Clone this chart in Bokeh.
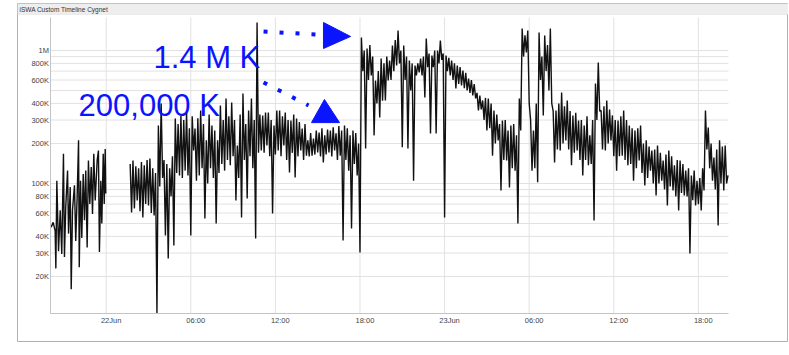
from bokeh.plotting import figure
from bokeh.models import FixedTicker, Label, Range1d, BoxAnnotation
from bokeh.embed import file_html
from bokeh.resources import INLINE

# ---------------- data ----------------
panel_title = "iSWA Custom Timeline Cygnet"

# x axis: hours since 22 Jun 00:00
x_tick_hours = [0, 6, 12, 18, 24, 30, 36, 42]
x_tick_labels = ["22Jun", "06:00", "12:00", "18:00", "23Jun", "06:00", "12:00", "18:00"]

# y axis (values in thousands, log scale)
y_major_k = [20, 30, 40, 60, 80, 100, 200, 300, 400, 600, 800, 1000]
y_major_labels = ["20K", "30K", "40K", "60K", "80K", "100K", "200K", "300K", "400K", "600K", "800K", "1M"]
y_minor_k = [50, 70, 90, 500, 700, 900]

# first stretch of data (before the gap)
seg1_hours = [-3.90, -3.76, -3.62, -3.57, -3.50, -3.38, -3.26, -3.15, -3.03, -2.96,
              -2.87, -2.74, -2.67, -2.55, -2.48, -2.39, -2.25, -2.16, -2.06, -1.96,
              -1.91, -1.82, -1.73, -1.63, -1.54, -1.45, -1.35, -1.26, -1.16, -1.06,
              -0.97, -0.88, -0.78, -0.64, -0.55, -0.48, -0.38, -0.31, -0.21, -0.14,
              -0.07, -0.03]
seg1_k = [47, 51, 44, 23, 105, 31, 63, 29.5, 167, 28,
          66, 125, 42, 94, 16, 63, 97, 37, 79, 211,
          23.5, 105, 39, 118, 53, 125, 33, 149, 70, 133,
          59, 167, 74.5, 149, 177, 30.5, 105, 50, 167, 70,
          182, 84]

# second stretch: regular 6-minute samples starting at 01:42 on 22 Jun
seg2_start_hour = 1.7
seg2_step_hour = 0.1
seg2_k = [
    140, 60.5, 149, 65, 135, 74.5, 130, 62, 145, 55.5, 137, 70, 150, 68.3, 154, 60, 130, 57.4, 120, 10.5,
    273, 95, 400, 110, 150, 40.6, 140, 27.3, 130, 80, 160, 34.2, 308, 120, 280, 115, 325, 110, 300, 125,
    342, 115, 260, 40.6, 320, 177, 259, 105, 310, 115, 354, 130, 280, 54.5, 211, 100, 330, 130, 273, 110,
    250, 50, 211, 120, 386, 140, 300, 125, 436, 150, 320, 137, 406, 160, 300, 74.5, 193, 110, 330, 55.5,
    475, 150, 280, 77.1, 354, 160, 436, 130, 300, 38.6, 1624, 170, 330, 177, 325, 170, 342, 193, 342, 160,
    300, 59.5, 273, 165, 354, 177, 354, 160, 320, 193, 342, 150, 300, 121, 298, 170, 330, 111, 308, 160,
    290, 177, 259, 150, 280, 162, 211, 160, 240, 162, 218, 165, 250, 171, 242, 160, 260, 144, 230, 165,
    255, 171, 250, 160, 265, 177, 238, 150, 270, 162, 250, 37.3, 273, 150, 260, 125, 230, 45.9, 250, 140,
    240, 115, 200, 30.3, 1253, 700, 1000, 183, 1035, 600, 1100, 649, 900, 230, 595, 400, 700, 313, 871, 420,
    800, 421, 900, 595, 841, 600, 1091, 700, 1200, 771, 1414, 800, 1000, 187, 1091, 600, 900, 183, 841, 500,
    800, 105, 771, 650, 800, 683, 871, 650, 900, 443, 1231, 750, 950, 238, 917, 750, 1000, 238, 1000, 800,
    1189, 850, 950, 55.5, 917, 700, 880, 649, 841, 600, 800, 518, 771, 560, 750, 546, 707, 520, 680, 500,
    616, 480, 600, 459, 560, 436, 480, 354, 459, 360, 421, 300, 440, 250, 436, 260, 400, 162, 354, 200,
    330, 211, 280, 88.6, 298, 150, 300, 149, 250, 93.3, 273, 130, 280, 125, 230, 50, 436, 250, 1464, 900,
    1300, 966, 1414, 400, 300, 125, 250, 130, 400, 102, 1366, 600, 900, 325, 1297, 700, 1100, 500, 1464, 400,
    350, 144, 354, 180, 400, 177, 483, 200, 380, 211, 421, 180, 350, 137, 325, 170, 340, 177, 298, 150,
    300, 115, 273, 150, 320, 137, 230, 140, 300, 52.7, 565, 300, 812, 350, 354, 180, 380, 177, 421, 200,
    360, 211, 325, 160, 300, 125, 298, 160, 320, 162, 354, 150, 300, 137, 273, 140, 260, 105, 250, 130,
    260, 149, 273, 120, 200, 96.6, 211, 110, 190, 125, 177, 100, 180, 81.2, 193, 100, 170, 105, 149, 90,
    165, 68.3, 177, 95, 160, 88.6, 137, 80, 150, 62.7, 149, 85, 140, 81.2, 125, 80, 130, 29.8, 115, 75,
    125, 68.3, 105, 70, 110, 62.7, 130, 88.6, 354, 180, 264, 130, 200, 105, 157, 90, 180, 48.3, 211, 100,
    190, 88.6, 193, 100, 115]
seg2_hours = [seg2_start_hour + i * seg2_step_hour for i in range(len(seg2_k))]

# hand-drawn annotations (data coordinates: hours, thousands)
note_texts = ["1.4 M K", "200,000 K"]
note_x = [3.35, -1.96]
note_y = [886, 386]
arrow1_x = [11.16, 14.84]
arrow1_y = [1390, 1319]
arrow2_x = [11.16, 14.35]
arrow2_y = [575, 386]
head1_x = [15.41, 17.33, 15.41]
head1_y = [1624, 1275, 1035]
head2_x = [15.48, 14.56, 16.55]
head2_y = [428, 287, 287]

# extents: plotting area and the surrounding panel (hours, thousands)
plot_x = (-3.92, 44.13)
plot_y = (10.5, 1770)
panel_x = (-6.29, 48.39)
panel_y = (6.375, 2256)
header_bottom_y = 1866
header_text_pos = (-6.15, 2034)

# ---------------- figure ----------------
BLUE = "#0a14ff"
GRID = "#e2e2e2"
FONT = "Liberation Sans"

p = figure(width=771, height=339,
           x_range=Range1d(*panel_x), y_range=Range1d(*panel_y),
           y_axis_type="log", output_backend="svg", toolbar_location=None,
           min_border_left=0, min_border_right=0, min_border_top=0, min_border_bottom=0)
p.margin = (3, 0, 0, 17)
p.outline_line_color = "#b0b0b0"
p.background_fill_color = "white"
p.border_fill_color = "white"

# header bar with the panel title
p.add_layout(BoxAnnotation(bottom=header_bottom_y, fill_color="#eeeeee", fill_alpha=1,
                           line_color="#d0d0d0", line_width=1, level="underlay"))
p.add_layout(Label(x=header_text_pos[0], y=header_text_pos[1], text=panel_title,
                   text_font=FONT, text_font_size="6.5px", text_color="#333333",
                   text_baseline="middle", text_align="left"))

# grid lines limited to the plotting area
p.xgrid.grid_line_color = None
p.ygrid.grid_line_color = None
grid_y = y_major_k + y_minor_k
p.multi_line(xs=[list(plot_x) for _ in grid_y], ys=[[v, v] for v in grid_y],
             line_color=GRID, line_width=1, level="underlay")
p.multi_line(xs=[[h, h] for h in x_tick_hours], ys=[list(plot_y) for _ in x_tick_hours],
             line_color=GRID, line_width=1, level="underlay")

# axes pinned to the plotting area
p.yaxis.ticker = FixedTicker(ticks=y_major_k)
p.yaxis.major_label_overrides = dict(zip(y_major_k, y_major_labels))
p.yaxis.fixed_location = plot_x[0]
p.yaxis.bounds = plot_y

label_offset = 0.35
x_label_pos = [h + label_offset for h in x_tick_hours]
p.xaxis.ticker = FixedTicker(ticks=x_label_pos)
p.xaxis.major_label_overrides = dict(zip(x_label_pos, x_tick_labels))
p.xaxis.fixed_location = plot_y[0]
p.xaxis.bounds = plot_x

for ax in (p.xaxis, p.yaxis):
    ax.axis_line_color = "#c4c4c4"
    ax.major_tick_in = 0
    ax.major_tick_out = 0
    ax.minor_tick_in = 0
    ax.minor_tick_out = 0
    ax.major_label_text_font = FONT
    ax.major_label_text_font_size = "7.5px"
    ax.major_label_text_color = "#444444"
    ax.major_label_standoff = 2

# data
p.line(seg1_hours, seg1_k, line_color="#111111", line_width=1.4)
p.line(seg2_hours, seg2_k, line_color="#111111", line_width=1.4)

# annotations
for t, x, y in zip(note_texts, note_x, note_y):
    p.add_layout(Label(x=x, y=y, text=t, text_font=FONT, text_font_size="31px",
                       text_color=BLUE, text_baseline="alphabetic", text_align="left"))
p.line(arrow1_x, arrow1_y, line_color=BLUE, line_width=4, line_dash="4 12")
p.line(arrow2_x, arrow2_y, line_color=BLUE, line_width=4, line_dash="4 12")
p.patch(head1_x, head1_y, fill_color=BLUE, line_color=BLUE)
p.patch(head2_x, head2_y, fill_color=BLUE, line_color=BLUE)

open("out.html", "w").write(file_html(p, INLINE))
